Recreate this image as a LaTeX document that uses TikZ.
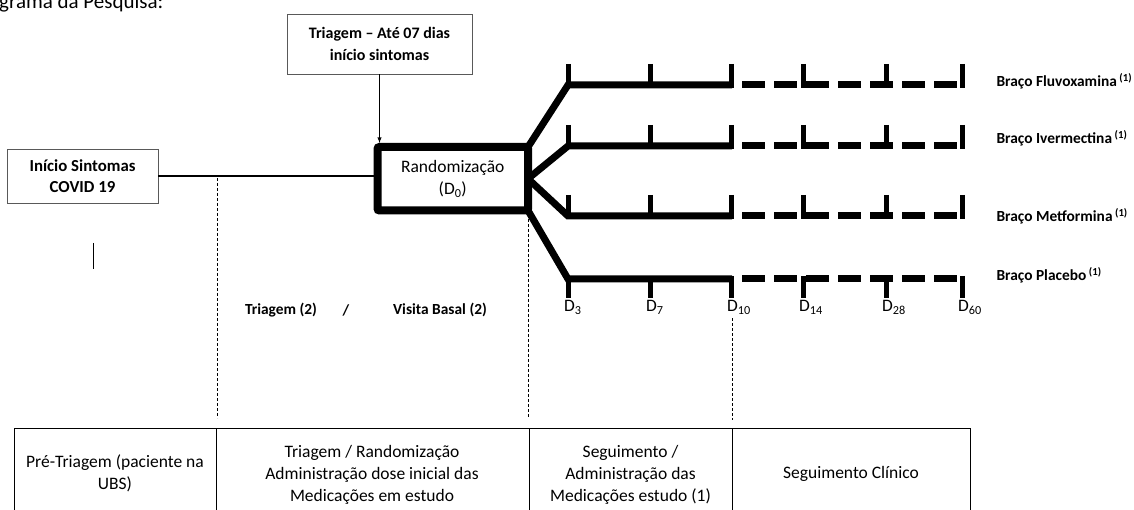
\documentclass[tikz,border=0pt]{standalone}
\usepackage{fontspec}
\setmainfont{Carlito}
\usetikzlibrary{arrows}
\tikzset{>=latex}
\newcommand{\txtsize}{\fontsize{17.5}{22}\selectfont}
\newcommand{\boldsize}{\fontsize{15.4}{22}\selectfont\bfseries}
\tikzset{
  box/.style={draw=black!65, line width=0.8, align=center, font=\fontsize{16}{22}\selectfont\bfseries},
  randbox/.style={draw, line width=8, rounded corners=2, align=center, font=\txtsize,
    inner sep=0, minimum width=150.5pt, minimum height=63.5pt},
  arm/.style={line width=7},
  tick/.style={line width=5},
  guide/.style={line width=0.7, dash pattern=on 3pt off 2pt},
  tabline/.style={line width=0.9},
  armlabel/.style={anchor=west, font=\boldsize},
  daylabel/.style={anchor=north west, inner sep=0, font=\txtsize},
  cell/.style={align=center, font=\txtsize}
}

\begin{document}
\begin{tikzpicture}[x=1pt,y=-1pt]
  \useasboundingbox (0,0) rectangle (1134,510);
  % Heading (cut at the top)
  \node[anchor=base west, inner sep=0, font=\fontsize{21}{24}\selectfont] (titulo) at (-1,9) {grama da Pesquisa:};

  % Boxes
  \node[box, minimum width=185pt, minimum height=60pt] (triagem) at (379.5,44) {Triagem – Até 07 dias\\início sintomas};
  \node[box, minimum width=151pt, minimum height=54pt, font=\fontsize{16.8}{21}\selectfont\bfseries] (inicio) at (82.5,176) {Início Sintomas\\COVID 19};
  \node[randbox] (random) at (452.75,178.75) {Randomização\\(D\textsubscript{0})};
  \draw[line width=1.2] (inicio.east) -- (inicio.east -| random.west);
  \draw[->, line width=0.9] (triagem.south) -- (triagem.south |- random.north);

  \draw[line width=1] (93,243) -- (93,269);

  % Phase markers
  \draw[guide] (217,178) -- (217,418);
  \draw[guide] (528,214) -- (528,418);
  \draw[guide] (732,318) -- (732,420);
  \node[font=\boldsize] (triag2) at (281,310) {Triagem (2)};
  \node[font=\boldsize] (barra) at (346,310) {/};
  \node[font=\boldsize] (visita) at (440,310) {Visita Basal (2)};

  % Arms
  \coordinate (fan1) at ([shift={(-4pt,-4pt)}]random.north east);
  \coordinate (fan2) at ([xshift=-4pt]random.east);
  \coordinate (fan3) at ([xshift=-4pt]random.east);
  \coordinate (fan4) at ([shift={(-4pt,4pt)}]random.south east);
  \foreach \i/\y in {1/85,2/146,3/216,4/279} {
    \coordinate (arm\i) at (568,\y);
    \draw[arm] (fan\i) -- (arm\i) -- (732,\y);
    \draw[arm, dash pattern=on 23pt off 9pt, dash phase=23pt] (733,\y) -- (962,\y);
  }
  \foreach \y in {85,146,216}
    \foreach \x in {568,650,731,803,886,962}
      \draw[tick] (\x,\y-21) -- (\x,\y+3);
  \foreach \x/\d in {568/3,650/7,731/10,803/14,886/28,962/60} {
    \draw[tick] (\x,276) -- (\x,298);
    \node[daylabel] (d\d) at (\x-4,300) {D\textsubscript{\d}};
  }
  \node[armlabel] (fluvo) at (993,81) {Braço Fluvoxamina\,\textsuperscript{(1)}};
  \node[armlabel] (iver) at (993,138) {Braço Ivermectina\,\textsuperscript{(1)}};
  \node[armlabel] (metf) at (993,216) {Braço Metformina\,\textsuperscript{(1)}};
  \node[armlabel] (plac) at (993,275) {Braço Placebo\,\textsuperscript{(1)}};

  % Table
  \draw[tabline] (14,512) |- (970,428) -- (970,512);
  \foreach \x in {216,529,732}
    \draw[tabline] (\x,428) -- (\x,512);
  \node[cell] (pre) at (115,473) {Pré-Triagem (paciente na\\UBS)};
  \node[cell] (trirand) at (372,475) {Triagem / Randomização\\Administração dose inicial das\\Medicações em estudo};
  \node[cell] (segadm) at (630.5,475) {Seguimento /\\Administração das\\Medicações estudo (1)};
  \node[cell] (segcli) at (851,474) {Seguimento Clínico};
\end{tikzpicture}
\end{document}
